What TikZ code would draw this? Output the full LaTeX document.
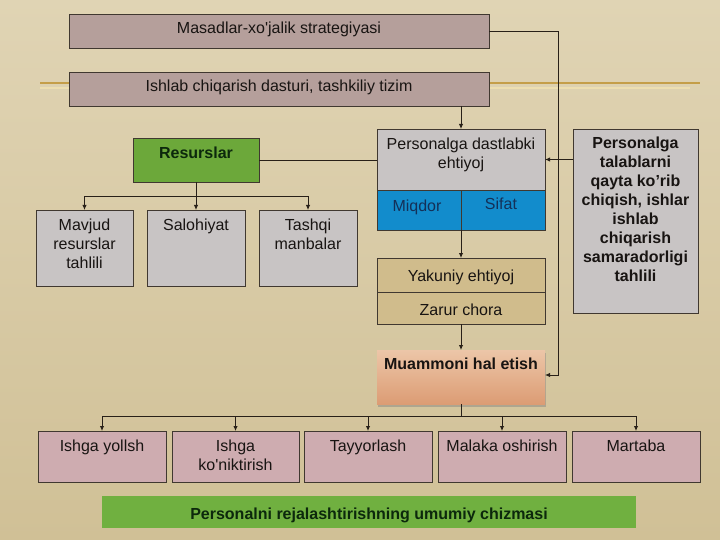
\documentclass[tikz,border=0pt]{standalone}
\usepackage{fontspec}
\setmainfont{Liberation Sans}
\usetikzlibrary{arrows.meta,shadows}
\definecolor{bgtop}{RGB}{224,212,180}
\definecolor{bgbot}{RGB}{208,192,150}
\definecolor{goldl}{RGB}{196,158,72}
\definecolor{goldlt}{RGB}{236,222,176}
\definecolor{mauve}{RGB}{181,159,155}
\definecolor{grayb}{RGB}{200,196,196}
\definecolor{resgreen}{RGB}{108,168,58}
\definecolor{bluebox}{RGB}{18,140,204}
\definecolor{tanbox}{RGB}{208,188,140}
\definecolor{pinkbox}{RGB}{206,172,176}
\definecolor{capgreen}{RGB}{112,176,64}
\definecolor{muamtop}{RGB}{236,198,168}
\definecolor{muambot}{RGB}{220,156,116}
\definecolor{bord}{RGB}{64,56,48}
\definecolor{connc}{RGB}{40,32,24}
\definecolor{txtc}{RGB}{24,20,18}
\definecolor{navy}{RGB}{20,48,88}
\definecolor{dkgreen}{RGB}{12,40,12}
\begin{document}
\begin{tikzpicture}[x=1pt,y=-1pt,
  bx/.style={draw=bord, line width=0.8pt, anchor=north west, inner sep=0pt, outer sep=0pt},
  txt/.style={anchor=north, inner sep=0pt, align=center, font=\fontsize{16}{19}\selectfont, text=txtc},
  btxt/.style={txt, font=\fontsize{16}{19}\selectfont\bfseries},
  ctxt/.style={inner sep=0pt, align=center, font=\fontsize{16}{19}\selectfont, text=txtc},
  line/.style={draw=connc, line width=0.9pt},
  conn/.style={line, -{Latex[length=5pt,width=4.5pt]}}]
\useasboundingbox (0,0) rectangle (720,540);
\shade[top color=bgtop, bottom color=bgbot] (0,0) rectangle (720,540);
\draw[goldlt, line width=1.5pt] (40,88) -- (690,88);
\draw[goldl, line width=1.6pt] (40,83) -- (700,83);

% top boxes
\node[bx, fill=mauve, minimum width=420pt, minimum height=34pt] (strat) at (69,14) {};
\node[txt] (strat-t) at ([yshift=-8pt]strat.north) {Masadlar-xo\textquotesingle jalik strategiyasi};
\node[bx, fill=mauve, minimum width=420pt, minimum height=34pt] (plan) at (69,72) {};
\node[txt] (plan-t) at ([yshift=-8pt]plan.north) {Ishlab chiqarish dasturi, tashkiliy tizim};

% resources
\node[bx, fill=resgreen, minimum width=126pt, minimum height=44pt] (res) at (133,138) {};
\node[btxt, text=dkgreen] (res-t) at ([yshift=-9pt]res.north) {Resurslar};
\node[bx, fill=grayb, minimum width=97pt, minimum height=76pt] (mav) at (36,210) {};
\node[txt] (mav-t) at ([yshift=-9pt]mav.north) {Mavjud\\resurslar\\tahlili};
\node[bx, fill=grayb, minimum width=98pt, minimum height=76pt] (sal) at (147,210) {};
\node[txt] (sal-t) at ([yshift=-9pt]sal.north) {Salohiyat};
\node[bx, fill=grayb, minimum width=98pt, minimum height=76pt] (tash) at (259,210) {};
\node[txt] (tash-t) at ([yshift=-9pt]tash.north) {Tashqi\\manbalar};

% needs column
\node[bx, fill=grayb, minimum width=168pt, minimum height=61pt] (pde) at (377,129) {};
\node[txt] (pde-t) at ([yshift=-9pt]pde.north) {Personalga dastlabki\\ehtiyoj};
\node[bx, fill=bluebox, minimum width=84pt, minimum height=40pt] (miq) at (377,190) {};
\node[txt, text=navy] (miq-t) at ([yshift=-10pt, xshift=-2pt]miq.north) {Miqdor};
\node[bx, fill=bluebox, minimum width=84pt, minimum height=40pt] (sif) at (461,190) {};
\node[txt, text=navy] (sif-t) at ([yshift=-8pt, xshift=-2pt]sif.north) {Sifat};
\node[bx, fill=tanbox, minimum width=168pt, minimum height=34pt] (yak) at (377,258) {};
\node[ctxt] (yak-t) at ([yshift=-2pt]yak.center) {Yakuniy ehtiyoj};
\node[bx, fill=tanbox, minimum width=168pt, minimum height=32pt] (zar) at (377,292) {};
\node[ctxt] (zar-t) at ([yshift=-2pt]zar.center) {Zarur chora};
\node[bx, draw=none, top color=muamtop, bottom color=muambot, minimum width=168pt, minimum height=54pt,
  drop shadow={shadow xshift=1pt, shadow yshift=-2.5pt, opacity=0.45}] (muam) at (377,350) {};
\node[btxt] (muam-t) at ([yshift=-8pt]muam.north) {Muammoni hal etish};

% right box
\node[bx, fill=grayb, minimum width=125pt, minimum height=184pt] (tal) at (573,129) {};
\node[btxt] (tal-t) at ([yshift=-8pt]tal.north) {Personalga\\talablarni\\qayta ko’rib\\chiqish, ishlar\\ishlab\\chiqarish\\samaradorligi\\tahlili};

% bottom boxes
\node[bx, fill=pinkbox, minimum width=128pt, minimum height=51pt] (b1) at (38,431) {};
\node[txt] (b1-t) at ([yshift=-9pt]b1.north) {Ishga yollsh};
\node[bx, fill=pinkbox, minimum width=127pt, minimum height=51pt] (b2) at (172,431) {};
\node[txt] (b2-t) at ([yshift=-9pt]b2.north) {Ishga\\ko\textquotesingle niktirish};
\node[bx, fill=pinkbox, minimum width=128pt, minimum height=51pt] (b3) at (304,431) {};
\node[txt] (b3-t) at ([yshift=-9pt]b3.north) {Tayyorlash};
\node[bx, fill=pinkbox, minimum width=128pt, minimum height=51pt] (b4) at (438,431) {};
\node[txt] (b4-t) at ([yshift=-9pt]b4.north) {Malaka oshirish};
\node[bx, fill=pinkbox, minimum width=128pt, minimum height=51pt] (b5) at (572,431) {};
\node[txt] (b5-t) at ([yshift=-9pt]b5.north) {Martaba};

% caption
\node[bx, draw=none, fill=capgreen, minimum width=534pt, minimum height=32pt] (cap) at (102,496) {};
\node[ctxt, font=\fontsize{16}{19}\selectfont\bfseries, text=dkgreen] (cap-t) at ([yshift=-3pt]cap.center) {Personalni rejalashtirishning umumiy chizmasi};

% connectors
\coordinate (rj) at (558,375);
\draw[conn] (strat.east) -| (rj) -- (rj -| muam.east);
\draw[conn] (pde.north |- plan.south) -- (pde.north);
\draw[line] (res.east) -- (res.east -| pde.west);
\draw[conn] (tal.west |- pde.east) -- (pde.east);
\draw[conn] (miq.south east) -- (yak.north);
\draw[conn] (zar.south) -- (muam.north);

\coordinate (rbus) at (196,196);
\draw[line] (res.south) -- (rbus);
\draw[conn] (rbus) -| (mav.north);
\draw[conn] (rbus) -- (sal.north);
\draw[conn] (rbus) -| (tash.north);

\coordinate (bbus) at (461,416);
\draw[line] (muam.south) -- (bbus);
\draw[conn] (bbus) -| (b1.north);
\draw[conn] (bbus) -| (b2.north);
\draw[conn] (bbus) -| (b3.north);
\draw[conn] (bbus) -| (b4.north);
\draw[conn] (bbus) -| (b5.north);
\end{tikzpicture}
\end{document}
